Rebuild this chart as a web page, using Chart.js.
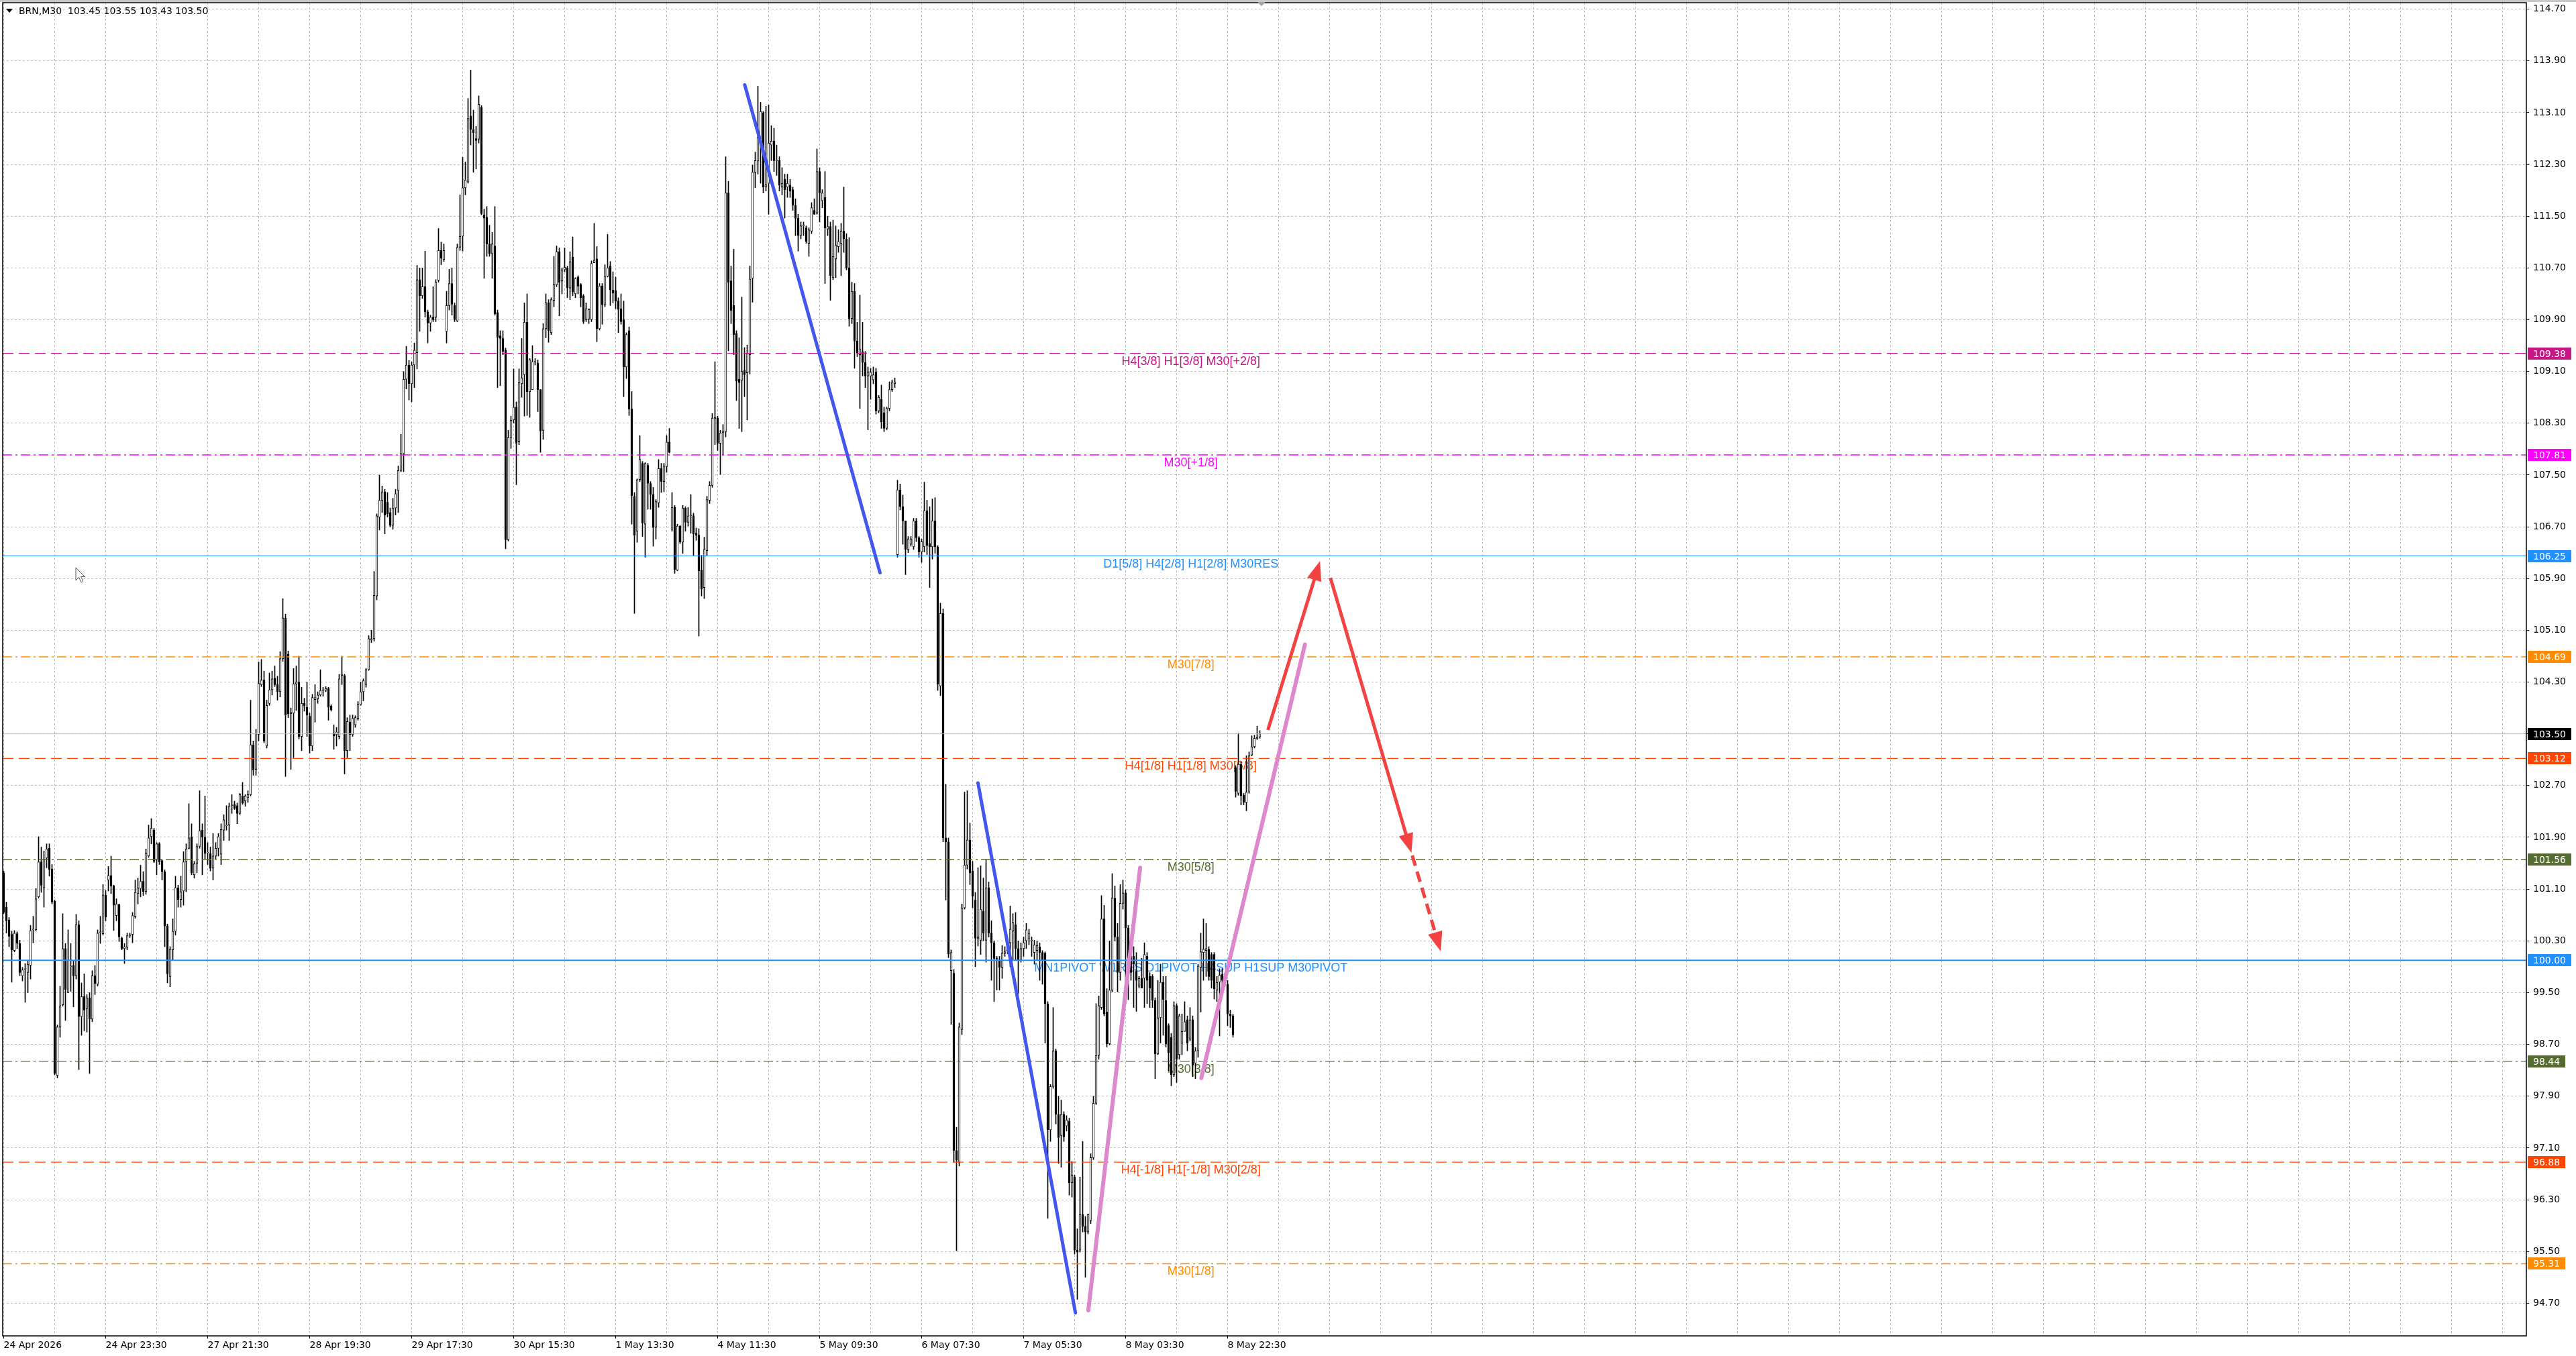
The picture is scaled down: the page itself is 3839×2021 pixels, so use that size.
<!DOCTYPE html>
<html>
<head>
<meta charset="utf-8">
<title>BRN,M30</title>
<script src="https://cdn.jsdelivr.net/npm/chart.js@4.4.1/dist/chart.umd.min.js"></script>
<style>
  html, body { margin: 0; padding: 0; background: #fff; }
  canvas { display: block; }
</style>
</head>
<body>
<canvas id="priceChart" width="3839" height="2021"></canvas>
<script>
var symbolName = 'BRN,M30';

// M30 bars, index 0 = 24 Apr 2026
var opens = [
  101.35,100.82,100.62,100.40,100.15,100.41,100.26,99.76,99.86,99.81,
  99.92,100.47,100.47,100.98,101.52,101.12,101.58,101.73,101.41,100.91,
  98.22,98.97,99.31,100.18,99.50,99.90,99.92,99.76,100.55,99.13,
  99.44,99.26,99.42,99.09,99.76,99.63,100.43,100.41,101.01,101.24,
  101.31,101.15,100.69,100.86,100.34,100.18,100.20,100.38,100.40,100.68,
  101.03,101.11,101.22,101.06,101.61,101.91,102.01,101.56,101.80,101.54,
  101.37,100.53,99.75,100.16,100.45,101.12,100.94,101.07,101.53,101.73,
  101.91,101.32,101.49,101.76,102.01,101.90,101.66,101.65,101.43,101.61,
  101.73,101.64,102.01,102.08,102.09,102.39,102.41,102.39,102.27,102.54,
  102.46,102.51,102.56,103.33,102.95,103.49,104.26,104.33,103.31,103.97,
  104.18,104.36,104.26,104.15,
  104.66,105.29,104.73,103.81,103.82,104.27,104.30,103.46,103.97,103.91,
  103.77,103.31,104.03,104.04,104.10,104.17,104.17,104.20,103.93,103.51,
  103.49,103.46,104.40,104.40,103.24,103.68,103.49,103.64,103.74,103.95,
  104.15,104.26,104.49,104.95,104.97,105.63,106.85,107.11,107.24,107.08,
  106.92,106.72,106.99,107.26,107.57,107.83,108.98,109.20,108.91,109.20,
  109.39,110.52,110.27,110.41,110.02,109.85,109.94,109.94,110.51,110.97,
  110.83,109.72,110.12,110.46,110.12,109.88,111.02,111.19,111.94,112.03,
  113.05,112.84,112.70,112.69,113.18,111.52,111.48,111.07,110.92,111.04,
  110.01,109.65,109.61,109.43,106.50,108.08,108.35,108.55,108.01,108.91,
  109.05,109.86,108.79,108.82,109.25,109.23,108.82,108.19,109.76,110.16,
  109.70,110.20,110.44,110.95,110.50,110.67,110.70,110.39,110.87,110.30,
  110.56,110.44,110.27,109.90,109.91,109.90,110.78,110.84,109.76,110.42,
  110.13,110.57,110.73,110.36,110.35,110.19,110.07,109.90,109.17,109.73,
  108.52,107.17,106.63,107.43,107.68,106.74,107.65,107.37,107.20,106.69,
  107.07,107.60,107.40,107.63,108.01,106.66,107.00,106.03,106.71,106.46,
  106.99,106.77,106.87,106.87,106.60,106.57,106.03,105.76,106.33,107.11,
  107.34,108.37,108.38,107.99,108.15,108.17,111.86,110.50,110.12,109.69,
  108.98,108.96,109.12,109.08,109.36,110.54,112.18,112.35,112.69,113.10,
  111.95,112.01,112.60,112.66,112.36,112.36,111.95,112.07,111.95,111.98,
  111.91,111.67,111.47,111.20,111.35,111.32,111.08,111.27,111.59,111.55,
  112.19,111.74,111.79,111.30,111.34,110.55,110.84,111.03,111.08,111.27,
  111.15,110.70,109.92,110.34,109.57,109.36,109.41,109.24,109.03,109.03,
  108.97,109.09,108.49,108.67,108.46,108.22,108.53,108.82,108.91,106.27,
  107.27,107.01,106.79,106.35,106.43,106.39,106.79,106.53,106.31,106.39,
  106.95,106.44,106.39,106.79,106.39,104.24,105.36,101.89,101.83,99.84,
  99.80,97.06,96.88,98.93,100.81,101.47,101.86,101.38,100.93,100.34,
  100.31,100.76,100.31,101.12,100.42,100.27,100.03,100.01,99.89,100.11,
  100.15,100.27,100.45,100.55,100.18,100.00,100.18,100.30,100.33,100.30,
  100.12,100.15,100.21,100.12,100.11,99.33,97.38,98.05,98.60,97.62,
  97.29,97.62,97.44,97.51,96.56,96.65,95.52,95.52,96.07,95.89,
  95.80,95.98,96.95,97.79,98.53,99.27,100.64,99.20,98.71,99.54,
  100.96,100.36,99.81,100.88,101.04,100.50,100.06,100.06,99.83,99.60,
  99.72,99.72,100.06,99.75,99.75,99.38,98.55,99.11,99.66,99.38,
  98.99,98.81,98.23,99.30,98.54,98.72,98.90,99.08,98.78,99.08,
  98.41,98.60,99.89,100.12,100.15,100.17,100.09,100.09,99.54,99.66,
  99.78,99.69,99.63,99.17,99.14,102.98,102.58,103.03,102.55,102.44,
  102.60,103.17,103.30,103.43,103.45
];
var highs = [
  101.38,100.90,100.66,100.45,100.46,100.44,100.31,99.89,99.95,100.00,
  100.54,100.68,101.11,101.91,101.75,101.69,101.80,101.80,101.48,100.93,
  99.00,99.60,100.72,100.26,100.47,100.26,99.99,100.71,100.61,99.65,
  99.79,99.47,99.50,99.84,99.92,100.47,100.68,101.17,101.08,101.45,
  101.61,101.16,100.95,100.87,100.36,100.26,100.42,100.42,100.74,101.24,
  101.27,101.47,101.37,101.72,102.09,102.19,102.04,101.82,101.82,101.55,
  101.40,100.56,100.21,100.64,101.30,101.16,101.30,101.68,101.80,102.42,
  102.11,101.53,101.80,102.62,102.11,102.54,101.82,101.75,101.96,101.82,
  101.96,102.11,102.25,102.39,102.43,102.56,102.46,102.43,102.58,102.75,
  102.56,102.62,104.02,103.39,103.57,104.61,104.65,104.47,104.02,104.44,
  104.47,104.55,104.39,104.77,
  105.59,105.35,104.78,103.90,104.51,104.55,104.70,104.22,104.05,104.30,
  103.82,104.11,104.26,104.15,104.49,104.22,104.23,104.22,103.95,103.64,
  103.60,104.42,104.70,104.42,103.75,103.79,103.79,103.78,104.00,104.30,
  104.35,104.51,105.02,105.10,106.01,106.90,107.50,107.33,107.28,107.23,
  106.99,107.14,107.28,107.64,108.13,109.10,109.49,109.27,109.25,109.54,
  110.74,110.70,110.70,110.96,110.05,109.97,110.41,110.52,111.31,111.10,
  111.07,110.34,110.68,110.70,110.16,111.07,111.83,112.41,112.34,113.32,
  113.76,113.14,112.89,113.36,113.21,111.61,111.65,111.36,111.25,111.65,
  110.05,109.73,109.73,109.46,108.19,108.41,109.14,108.63,109.14,109.61,
  110.16,110.30,109.30,109.50,109.30,109.28,108.82,109.84,110.30,110.21,
  110.24,110.88,111.04,111.01,110.70,111.01,110.73,110.95,111.18,110.55,
  110.58,110.46,110.29,110.16,110.07,110.81,111.39,111.03,110.46,110.46,
  110.75,111.22,110.80,110.64,110.56,110.24,110.30,110.19,109.70,109.79,
  108.79,107.23,107.44,108.11,107.71,107.69,107.68,107.40,107.31,107.12,
  107.74,107.68,107.68,108.11,108.22,107.23,107.03,106.74,106.72,107.03,
  107.01,107.00,107.20,106.91,106.68,106.67,106.26,106.54,107.17,107.40,
  108.45,109.25,108.41,108.19,108.28,112.42,112.04,110.73,110.99,109.73,
  109.62,110.25,109.47,109.51,110.73,112.29,112.49,113.51,113.26,113.12,
  113.20,113.22,112.90,112.86,112.60,112.42,112.25,112.15,112.15,112.07,
  111.95,111.77,111.53,111.41,111.41,111.35,111.32,111.71,111.77,112.54,
  112.25,111.91,112.19,111.50,111.41,111.44,111.35,111.29,111.39,111.95,
  111.23,111.17,110.48,110.46,109.86,110.28,109.86,109.41,109.17,109.15,
  109.17,109.15,108.73,108.89,108.55,108.55,108.94,108.97,109.00,107.42,
  107.36,107.19,106.79,106.55,106.55,106.83,106.83,106.55,106.51,107.39,
  107.11,107.01,107.13,107.15,106.41,105.52,105.43,102.72,101.89,100.16,
  99.86,97.42,99.03,100.87,102.60,102.62,102.12,101.53,101.05,101.43,
  101.46,101.27,101.55,101.21,100.61,100.30,100.06,100.06,100.23,100.21,
  100.29,100.84,100.72,100.74,100.30,100.27,100.36,100.57,100.48,100.36,
  100.31,100.30,100.27,100.15,100.13,99.36,98.08,99.27,98.63,97.90,
  97.84,97.66,97.60,97.56,96.89,96.68,95.85,96.65,97.20,96.04,
  96.08,97.01,97.90,99.33,99.45,101.00,100.85,99.56,100.30,101.34,
  101.15,100.57,101.17,101.24,101.09,100.54,100.24,100.21,100.12,99.75,
  100.03,100.27,100.12,99.81,99.78,99.42,99.69,99.94,99.75,99.75,
  99.02,98.87,99.36,99.33,99.17,99.17,99.36,99.14,99.27,99.14,
  98.65,99.94,100.42,100.64,100.57,100.21,100.12,100.12,99.75,99.87,
  99.87,99.80,99.69,99.23,99.17,103.01,103.51,103.07,102.58,103.16,
  103.22,103.47,103.48,103.62,103.55
];
var lows = [
  100.72,100.42,100.21,99.66,100.13,100.18,99.76,99.68,99.35,99.50,
  99.71,100.27,100.45,100.96,101.05,100.82,101.43,101.30,100.87,98.23,
  98.18,98.81,99.29,99.07,99.50,99.52,99.28,99.71,98.31,98.84,
  98.91,98.89,98.25,99.05,99.47,99.60,100.26,100.39,100.61,101.07,
  101.03,100.46,100.61,100.29,100.16,99.95,100.16,100.35,100.27,100.65,
  100.87,100.98,101.00,101.02,101.59,101.80,101.51,101.32,101.48,101.24,
  100.21,99.65,99.59,100.00,100.39,100.82,100.82,100.85,101.06,101.72,
  101.32,101.27,101.35,101.73,101.32,101.56,101.48,101.38,101.24,101.56,
  101.61,101.48,101.85,102.01,101.85,102.27,102.33,102.11,102.25,102.41,
  102.38,102.44,102.54,102.86,102.86,103.39,104.23,103.36,103.28,103.94,
  104.10,104.23,104.02,104.07,
  104.62,102.84,103.75,102.95,103.13,103.86,103.42,103.24,103.85,103.46,
  103.20,103.24,103.68,103.97,104.08,104.08,104.15,103.71,103.85,103.26,
  103.31,103.42,104.26,102.88,103.13,103.24,103.46,103.60,103.71,103.94,
  104.01,104.22,104.48,104.91,104.93,105.57,106.65,106.92,106.59,106.85,
  106.70,106.66,106.88,106.92,107.55,107.55,108.83,108.66,108.63,108.85,
  109.14,109.72,110.23,109.94,109.54,109.72,109.87,109.87,110.48,110.75,
  110.80,109.54,110.05,109.97,109.87,109.87,110.97,110.96,111.83,112.01,
  112.60,112.18,112.23,112.63,111.52,110.54,110.88,110.88,110.54,109.97,
  108.85,108.88,109.36,106.36,106.48,107.91,108.30,107.35,107.97,108.70,
  108.41,108.42,108.39,108.82,109.20,108.48,107.85,108.05,109.62,109.55,
  109.67,110.10,110.41,109.96,110.30,110.64,110.24,110.21,110.27,110.24,
  110.30,110.10,109.84,109.87,109.84,109.87,110.78,109.56,109.74,109.83,
  110.10,110.56,110.12,110.16,110.07,109.70,109.83,108.71,108.99,108.42,
  106.74,105.36,106.46,107.40,106.55,106.23,106.97,106.97,106.40,106.51,
  107.00,107.23,107.24,107.54,107.84,106.63,105.98,106.02,106.44,106.29,
  106.63,106.71,106.60,106.26,106.49,105.01,105.63,105.59,106.26,107.06,
  107.31,107.97,107.88,107.51,107.80,108.09,109.42,109.84,109.36,108.65,
  108.22,108.17,108.71,108.35,109.06,110.17,111.94,112.15,112.01,111.86,
  111.89,111.53,112.36,112.19,112.13,111.89,111.83,111.47,111.79,111.79,
  111.59,111.20,110.96,111.15,111.20,111.08,110.88,111.23,111.53,111.53,
  111.41,111.63,110.46,111.20,110.20,110.52,110.55,110.94,110.58,110.94,
  110.67,109.80,109.84,109.15,109.33,108.53,109.03,108.85,108.20,108.67,
  108.91,108.44,108.46,108.22,108.17,108.20,108.49,108.79,108.85,106.23,
  106.96,106.43,105.96,106.30,106.40,106.35,106.47,106.23,106.15,106.31,
  106.27,105.76,106.20,106.29,104.17,104.09,101.83,100.93,100.04,99.01,
  96.88,95.51,96.82,98.85,100.79,101.41,101.17,100.81,99.90,100.22,
  100.09,100.30,99.97,100.36,99.69,99.36,99.54,99.54,99.72,100.06,
  100.10,99.90,100.00,100.00,99.48,99.97,100.06,100.18,100.24,100.06,
  99.94,100.00,99.69,99.63,98.72,96.01,97.20,98.02,97.47,96.86,
  96.80,97.20,97.36,96.37,96.34,95.46,94.76,95.49,95.80,95.10,
  95.77,95.93,96.92,97.77,98.47,99.24,99.14,98.66,98.69,99.51,
  100.30,99.51,99.69,100.79,99.33,99.39,99.69,99.27,99.21,99.57,
  99.57,99.27,99.33,99.27,99.27,98.17,98.54,98.72,98.84,98.66,
  98.29,98.06,98.20,98.11,98.47,98.54,98.90,98.60,98.75,98.20,
  98.17,98.50,99.20,99.69,99.75,99.69,99.57,99.40,99.36,98.83,
  99.51,99.60,98.99,98.96,98.81,102.52,102.55,102.40,102.40,102.31,
  102.58,103.16,103.28,103.41,103.43
];
var closes = [
  100.74,100.61,100.37,100.16,100.42,100.26,99.81,99.85,99.87,99.94,
  100.46,100.48,100.95,101.52,101.16,101.56,101.72,101.40,100.90,98.25,
  98.97,99.30,100.18,99.55,100.00,99.91,99.76,100.55,99.13,99.44,
  99.23,99.42,99.09,99.76,99.64,100.42,100.44,101.01,100.67,101.31,
  101.15,100.85,100.87,100.36,100.18,100.21,100.38,100.38,100.69,101.05,
  101.12,101.22,101.06,101.65,101.89,102.04,101.53,101.80,101.52,101.37,
  100.53,99.79,100.17,100.45,101.12,100.94,101.06,101.52,101.72,101.89,
  101.35,101.49,101.76,102.00,101.90,101.65,101.66,101.42,101.61,101.73,
  101.91,102.02,102.17,102.09,102.38,102.39,102.35,102.27,102.56,102.43,
  102.54,102.56,103.33,102.94,103.50,104.28,104.33,103.39,103.94,104.18,
  104.35,104.26,104.15,104.66,
  105.29,103.79,103.81,103.83,104.27,104.30,103.46,103.97,103.93,103.79,
  103.31,104.06,104.06,104.10,104.17,104.17,104.20,103.91,103.87,103.47,
  103.53,104.35,104.42,103.24,103.69,103.49,103.74,103.75,103.95,104.15,
  104.32,104.49,104.97,104.97,105.64,106.87,107.11,107.24,106.88,106.90,
  106.72,106.99,107.21,107.57,107.83,108.98,109.20,108.91,109.20,109.43,
  110.52,110.27,110.41,110.02,109.85,109.94,109.90,110.48,110.97,110.85,
  110.97,110.12,110.46,110.14,109.90,111.02,111.19,111.94,112.06,113.01,
  112.84,112.79,112.67,113.23,111.54,111.47,111.07,110.92,111.07,109.99,
  109.63,109.61,109.41,106.50,108.08,108.35,108.55,107.99,108.93,109.00,
  109.86,108.79,109.28,109.25,109.26,108.82,108.18,109.76,110.16,109.73,
  110.21,110.44,110.95,110.48,110.67,110.71,110.39,110.80,110.33,110.54,
  110.42,110.24,109.87,110.07,110.06,110.77,110.82,109.76,110.42,110.13,
  110.57,110.70,110.36,110.31,110.19,110.06,109.87,109.17,109.67,108.52,
  107.18,106.57,107.43,107.74,106.76,107.68,107.37,107.20,106.69,107.09,
  107.60,107.40,107.64,108.01,107.85,107.00,106.04,106.71,106.46,106.99,
  106.77,106.87,106.88,106.59,106.57,106.02,105.74,106.35,107.12,107.34,
  108.38,108.39,107.99,108.15,108.18,111.86,110.48,110.04,109.67,108.95,
  108.93,109.10,109.05,109.38,110.53,112.18,112.36,112.72,113.12,111.95,
  111.99,112.63,112.66,112.36,112.37,111.98,112.01,111.91,112.01,111.89,
  111.67,111.47,111.20,111.35,111.35,111.11,111.29,111.63,111.53,112.19,
  111.86,111.86,111.32,111.34,110.58,110.88,111.05,111.11,111.27,111.15,
  110.70,109.92,110.34,109.57,109.39,109.45,109.24,109.03,109.09,109.09,
  109.05,108.49,108.70,108.32,108.22,108.53,108.82,108.94,108.94,107.27,
  107.01,106.79,106.35,106.51,106.51,106.79,106.53,106.31,106.47,106.95,
  106.41,106.39,106.79,106.39,104.27,105.36,101.89,101.83,100.10,100.12,
  97.06,96.91,98.97,100.81,101.47,101.86,101.35,100.99,100.34,100.36,
  100.79,100.42,101.12,100.42,100.27,100.03,100.02,99.89,100.11,100.13,
  100.25,100.48,100.58,100.18,100.00,100.18,100.27,100.47,100.42,100.30,
  100.24,100.23,100.12,100.00,99.33,97.38,98.05,98.60,97.62,97.26,
  97.62,97.27,97.53,96.56,96.68,95.52,95.49,96.07,95.89,95.80,
  96.07,96.95,97.79,98.53,99.30,100.64,99.17,98.71,99.54,100.96,
  100.36,99.81,100.88,101.04,100.50,100.03,99.81,99.94,99.69,99.72,
  99.57,100.09,99.69,99.57,99.38,98.55,99.11,99.66,99.39,98.71,
  98.57,98.23,99.30,98.47,99.14,98.90,99.05,98.72,99.08,98.38,
  98.60,99.91,100.13,100.17,100.18,99.75,99.69,99.56,99.66,99.77,
  99.69,99.75,99.17,99.14,98.85,102.61,103.03,102.54,102.44,102.60,
  103.16,103.30,103.43,103.45,103.50
];

var dateLabels = ['24 Apr 2026', '24 Apr 23:30', '27 Apr 21:30', '28 Apr 19:30', '29 Apr 17:30',
  '30 Apr 15:30', '1 May 13:30', '4 May 11:30', '5 May 09:30', '6 May 07:30',
  '7 May 05:30', '8 May 03:30', '8 May 22:30'];
var dateIdx = [0, 38, 76, 114, 152, 190, 228, 266, 304, 342, 380, 418, 456];

var priceTicks = [94.70, 95.50, 96.30, 97.10, 97.90, 98.70, 99.50, 100.30, 101.10, 101.90,
  102.70, 103.50, 104.30, 105.10, 105.90, 106.70, 107.50, 108.30, 109.10, 109.90,
  110.70, 111.50, 112.30, 113.10, 113.90, 114.70];

// Murrey / pivot levels
var levelPrices = [109.38, 107.81, 106.25, 104.69, 103.12, 101.56, 100.00, 98.44, 96.88, 95.31];
var levelNames = ['H4[3/8] H1[3/8] M30[+2/8]', 'M30[+1/8]', 'D1[5/8] H4[2/8] H1[2/8] M30RES', 'M30[7/8]',
  'H4[1/8] H1[1/8] M30[6/8]', 'M30[5/8]', 'MN1PIVOT W1RES D1PIVOT H4SUP H1SUP M30PIVOT', 'M30[3/8]',
  'H4[-1/8] H1[-1/8] M30[2/8]', 'M30[1/8]'];
var levelColors = ['#c71585', '#ff00ff', '#1e90ff', '#ff8c00', '#ff4500', '#556b2f', '#1e90ff', '#556b2f', '#ff4500', '#ff8c00'];
var levelDashes = [[16, 8], [14, 5, 3, 5], [], [14, 5, 3, 5], [16, 8], [14, 5, 3, 5], [], [14, 5, 3, 5], [16, 8], [14, 5, 3, 5]];
var levelWidths = [1.4, 1.4, 1.2, 1.4, 1.4, 1.4, 2, 1.4, 1.4, 1.4];
var bidPrice = 103.50;

// hand-drawn trend lines [bar index, price]
var blueDownA = [[276.1, 113.53], [326.5, 105.99]];
var blueDownB = [[363.0, 102.74], [399.3, 94.55]];
var pinkUpA = [[404.1, 94.59], [423.4, 101.43]];
var pinkUpB = [[446.2, 98.18], [484.8, 104.88]];
var redUp = [[471.0, 103.56], [489.9, 106.10]];
var redDown = [[494.3, 105.91], [524.0, 101.73]];
var redDownDash = [[524.8, 101.62], [534.9, 100.21]];

var xMin = -0.375, xMax = 939.875;
var yMin = 94.195, yMax = 114.80;
var labelIdx = 442.3;

var gridIdx = [];
for (var k = 0; k < 50; k++) gridIdx.push(19 * k);

Chart.defaults.font.family = "'DejaVu Sans', sans-serif";
Chart.defaults.font.size = 14;
Chart.defaults.color = '#000';

function toPoints(pairs) {
  return pairs.map(function (p) { return { x: p[0], y: p[1] }; });
}

function hLine(price, color, width, dash) {
  return {
    type: 'line',
    data: [{ x: xMin, y: price }, { x: xMax, y: price }],
    borderColor: color, borderWidth: width, borderDash: dash,
    pointRadius: 0, pointHoverRadius: 0, fill: false, order: 3
  };
}

function trendLine(pairs, color, width, dash, arrow) {
  return {
    type: 'line',
    data: toPoints(pairs),
    borderColor: color, borderWidth: width, borderDash: dash || [],
    borderCapStyle: arrow ? 'butt' : 'round',
    pointRadius: 0, pointHoverRadius: 0, fill: false, order: 1,
    arrowHead: !!arrow
  };
}

var datasets = [];
levelPrices.forEach(function (p, i) {
  datasets.push(hLine(p, levelColors[i], levelWidths[i], levelDashes[i]));
});
datasets.push(hLine(bidPrice, '#c0c0c0', 1, []));

var wickIndex = datasets.length;
datasets.push({
  type: 'bar',
  data: highs.map(function (h, i) { return { x: i, y: [lows[i], h] }; }),
  backgroundColor: '#000', borderWidth: 0,
  barThickness: 1, grouped: false, order: 5
});
datasets.push({
  type: 'bar',
  data: opens.map(function (o, i) { return { x: i, y: [o, closes[i]] }; }),
  backgroundColor: closes.map(function (c, i) { return c >= opens[i] ? '#ffffff' : '#000000'; }),
  borderColor: '#000', borderWidth: 1, borderSkipped: false,
  barThickness: 3, minBarLength: 1, grouped: false, order: 4
});

datasets.push(trendLine(blueDownA, '#4356ee', 5));
datasets.push(trendLine(blueDownB, '#4356ee', 5));
datasets.push(trendLine(pinkUpA, '#dd88cc', 6));
datasets.push(trendLine(pinkUpB, '#dd88cc', 6));
datasets.push(trendLine(redUp, '#f24242', 5, [], true));
datasets.push(trendLine(redDown, '#f24242', 5, [], true));
datasets.push(trendLine(redDownDash, '#f24242', 5, [16, 9], true));

// level names sit under the candles
var levelTextPlugin = {
  id: 'levelText',
  beforeDatasetDraw: function (chart, args) {
    if (args.index !== wickIndex) return;
    var ctx = chart.ctx, xs = chart.scales.x, ys = chart.scales.y;
    ctx.save();
    ctx.font = '18px "Liberation Sans", Arial, sans-serif';
    ctx.textAlign = 'center';
    ctx.textBaseline = 'alphabetic';
    levelPrices.forEach(function (p, i) {
      ctx.fillStyle = levelColors[i];
      ctx.fillText(levelNames[i], xs.getPixelForValue(labelIdx), ys.getPixelForValue(p) + 17);
    });
    ctx.restore();
  }
};

var arrowPlugin = {
  id: 'arrowHeads',
  afterDatasetsDraw: function (chart) {
    var ctx = chart.ctx;
    chart.data.datasets.forEach(function (ds, di) {
      if (!ds.arrowHead) return;
      var pts = chart.getDatasetMeta(di).data;
      var a = pts[pts.length - 2], b = pts[pts.length - 1];
      var ang = Math.atan2(b.y - a.y, b.x - a.x);
      ctx.save();
      ctx.translate(b.x, b.y);
      ctx.rotate(ang);
      ctx.beginPath();
      ctx.moveTo(7, 0);
      ctx.lineTo(-22, -11);
      ctx.lineTo(-22, 11);
      ctx.closePath();
      ctx.fillStyle = ds.borderColor;
      ctx.fill();
      ctx.restore();
    });
  }
};

var framePlugin = {
  id: 'frame',
  afterDraw: function (chart) {
    var ctx = chart.ctx, area = chart.chartArea, ys = chart.scales.y;
    ctx.save();
    ctx.fillStyle = '#c8c8c8';
    ctx.fillRect(0, 0, chart.width, 3);
    ctx.strokeStyle = '#000';
    ctx.lineWidth = 1.5;
    ctx.strokeRect(area.left, area.top, area.right - area.left, area.bottom - area.top);

    // chart shift marker
    ctx.fillStyle = '#a0a0a0';
    ctx.beginPath();
    ctx.moveTo(1874, 3); ctx.lineTo(1886, 3); ctx.lineTo(1880, 9); ctx.closePath();
    ctx.fill();

    // mouse pointer left on the chart
    ctx.save();
    ctx.translate(113, 846);
    ctx.beginPath();
    ctx.moveTo(0, 0); ctx.lineTo(0, 19); ctx.lineTo(4.5, 14.5); ctx.lineTo(8, 22);
    ctx.lineTo(11, 20.5); ctx.lineTo(7.5, 13.5); ctx.lineTo(13.5, 13.5); ctx.closePath();
    ctx.fillStyle = '#fff';
    ctx.fill();
    ctx.strokeStyle = '#555';
    ctx.lineWidth = 1;
    ctx.stroke();
    ctx.restore();

    // price tags on the axis
    ctx.font = "14px 'DejaVu Sans', sans-serif";
    ctx.textBaseline = 'middle';
    ctx.textAlign = 'left';
    var tags = levelPrices.concat([bidPrice]);
    var tagColors = levelColors.concat(['#000000']);
    tags.forEach(function (p, i) {
      var txt = p.toFixed(2);
      var y = Math.round(ys.getPixelForValue(p));
      var w = ctx.measureText(txt).width + 16;
      ctx.fillStyle = tagColors[i];
      ctx.fillRect(area.right + 2, y - 9, w, 18);
      ctx.fillStyle = '#fff';
      ctx.fillText(txt, area.right + 10, y + 1);
    });

    // header
    var last = closes.length - 1;
    ctx.fillStyle = '#000';
    ctx.beginPath();
    ctx.moveTo(9, 13); ctx.lineTo(19, 13); ctx.lineTo(14, 19); ctx.closePath();
    ctx.fill();
    var head = symbolName + '  ' + [opens[last], highs[last], lows[last], closes[last]].map(function (v) {
      return v.toFixed(2);
    }).join(' ');
    ctx.fillText(head, 28, 17);
    ctx.restore();
  }
};

var chart = new Chart(document.getElementById('priceChart'), {
  type: 'bar',
  data: { datasets: datasets },
  options: {
    responsive: false,
    devicePixelRatio: 1,
    animation: false,
    events: [],
    layout: { padding: { left: 4, top: 4, right: 0, bottom: 0 } },
    plugins: { legend: { display: false }, tooltip: { enabled: false } },
    scales: {
      x: {
        type: 'linear', min: xMin, max: xMax, offset: false,
        afterBuildTicks: function (s) { s.ticks = gridIdx.map(function (v) { return { value: v }; }); },
        afterFit: function (s) { s.height = 30; s.paddingLeft = 0; s.paddingRight = 0; },
        grid: {
          color: '#c0c0c0', lineWidth: 1, offset: false, drawTicks: true, tickLength: 4,
          tickColor: function (c) {
            return c.tick && dateIdx.indexOf(c.tick.value) >= 0 ? '#000' : 'rgba(0,0,0,0)';
          }
        },
        border: { display: false, dash: [3, 3] },
        ticks: {
          autoSkip: false, maxRotation: 0, minRotation: 0, align: 'start', padding: 2,
          callback: function (v) {
            var k = dateIdx.indexOf(v);
            return k >= 0 ? dateLabels[k] : '';
          }
        }
      },
      y: {
        type: 'linear', position: 'right', min: yMin, max: yMax, beginAtZero: false,
        afterBuildTicks: function (s) { s.ticks = priceTicks.map(function (v) { return { value: v }; }); },
        afterFit: function (s) { s.width = 74; s.paddingTop = 0; s.paddingBottom = 0; },
        grid: { color: '#c0c0c0', lineWidth: 1, drawTicks: true, tickLength: 4, tickColor: '#000' },
        border: { display: false, dash: [3, 3] },
        ticks: {
          padding: 6,
          callback: function (v) { return Number(v).toFixed(2); }
        }
      }
    }
  },
  plugins: [levelTextPlugin, arrowPlugin, framePlugin]
});
</script>
</body>
</html>
